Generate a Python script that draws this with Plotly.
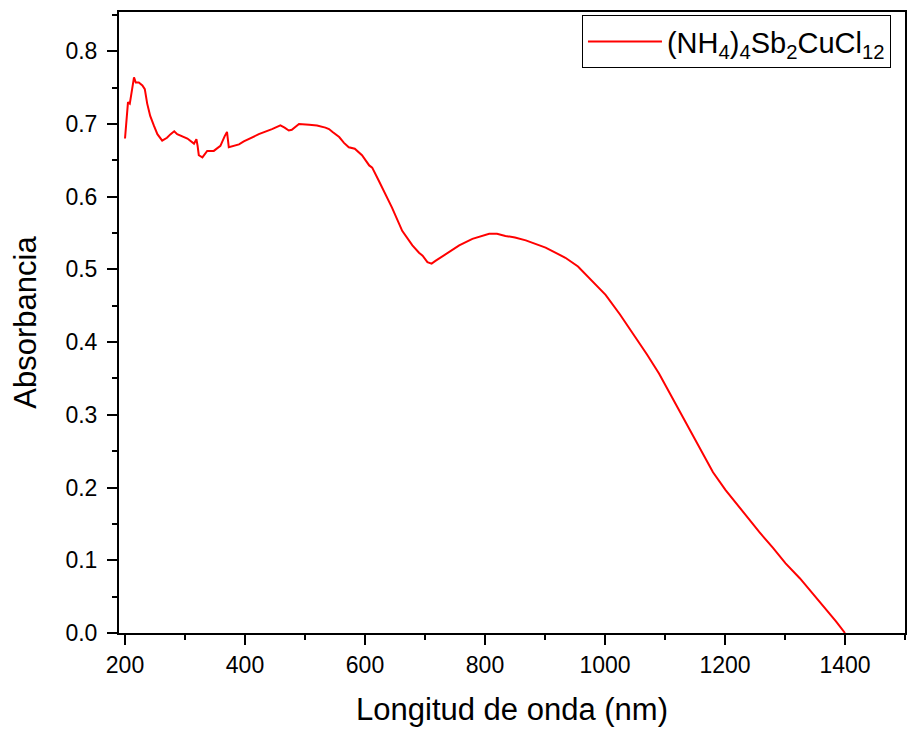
import plotly.graph_objects as go

wavelength = [200, 201, 203, 205, 208, 211, 213, 215, 218, 223, 229, 233, 237, 242, 248, 254, 262, 270,
              276, 282, 287, 293, 304, 315, 319, 321, 323, 329, 337, 348, 359, 366, 370, 373, 382,
              390, 398, 423, 445, 459, 466, 473, 478, 490, 507, 520, 534, 540, 546, 557, 565, 573,
              583, 595, 607, 612, 623, 635, 645, 662, 679, 690, 696, 704, 711, 718, 734, 757, 779,
              807, 820, 834, 850, 868, 901, 923, 934, 955, 973, 1001, 1025, 1051, 1070, 1090, 1107,
              1123, 1140, 1162, 1180, 1201, 1230, 1257, 1280, 1301, 1325, 1346, 1370, 1385, 1400]
absorbance = [0.680, 0.690, 0.715, 0.730, 0.728, 0.746, 0.752, 0.764, 0.757, 0.757, 0.753, 0.748, 0.728,
              0.711, 0.698, 0.686, 0.677, 0.681, 0.686, 0.690, 0.686, 0.684, 0.680, 0.673, 0.679,
              0.670, 0.657, 0.654, 0.663, 0.663, 0.670, 0.683, 0.689, 0.668, 0.670,
              0.672, 0.676, 0.686, 0.693, 0.698, 0.695, 0.691, 0.692, 0.700, 0.699, 0.698, 0.695,
              0.693, 0.689, 0.682, 0.674, 0.668, 0.666, 0.657, 0.643, 0.640, 0.622, 0.603, 0.585,
              0.553, 0.533, 0.523, 0.519, 0.510, 0.508, 0.512, 0.521, 0.533, 0.542, 0.549, 0.549,
              0.546, 0.544, 0.540, 0.530, 0.521, 0.516, 0.504, 0.489, 0.465, 0.438, 0.407, 0.383,
              0.357, 0.331, 0.3065, 0.281, 0.247, 0.221, 0.1966, 0.166, 0.139, 0.117, 0.0958,
              0.075, 0.0545, 0.031, 0.016, 0.0]

x_ticks = [200, 400, 600, 800, 1000, 1200, 1400]
y_ticks = [0.0, 0.1, 0.2, 0.3, 0.4, 0.5, 0.6, 0.7, 0.8]

series_name = "(NH<sub>4</sub>)<sub>4</sub>Sb<sub>2</sub>CuCl<sub>12</sub>"
FONT = "Liberation Sans, Arial"

fig = go.Figure()
fig.add_trace(go.Scatter(x=wavelength, y=absorbance, mode="lines", name=series_name,
                         line=dict(color="#ff0000", width=2)))

axis_common = dict(showline=True, linecolor="black", linewidth=2, mirror=True,
                   ticks="outside", tickcolor="black", tickwidth=2, ticklen=10,
                   showgrid=False, zeroline=False,
                   tickfont=dict(family=FONT, size=23, color="black"))

fig.update_xaxes(range=[190, 1500], tickvals=x_ticks, ticktext=[str(v) for v in x_ticks],
                 minor=dict(ticks="outside", ticklen=5, tickwidth=2, tickcolor="black", dtick=100,
                            tick0=100),
                 title=dict(text="Longitud de onda (nm)", standoff=22,
                            font=dict(family=FONT, size=31, color="black")),
                 **axis_common)
fig.update_yaxes(range=[0, 0.854], tickvals=y_ticks, ticktext=[f"{v:.1f}" for v in y_ticks],
                 ticklabelstandoff=5,
                 minor=dict(ticks="outside", ticklen=5, tickwidth=2, tickcolor="black", dtick=0.05,
                            tick0=0.05),
                 title=dict(text="Absorbancia", standoff=20,
                            font=dict(family=FONT, size=31, color="black")),
                 **axis_common)

fig.update_layout(
    width=909, height=732,
    margin=dict(l=119, r=2, t=12, b=99),
    paper_bgcolor="white", plot_bgcolor="white",
    showlegend=True,
    legend=dict(x=0.589, y=0.995, xanchor="left", yanchor="top",
                bordercolor="black", borderwidth=1, bgcolor="white",
                font=dict(family=FONT, size=29, color="black"),
                itemwidth=74, entrywidth=244, tracegroupgap=0),
)

fig.write_html("out.html")
